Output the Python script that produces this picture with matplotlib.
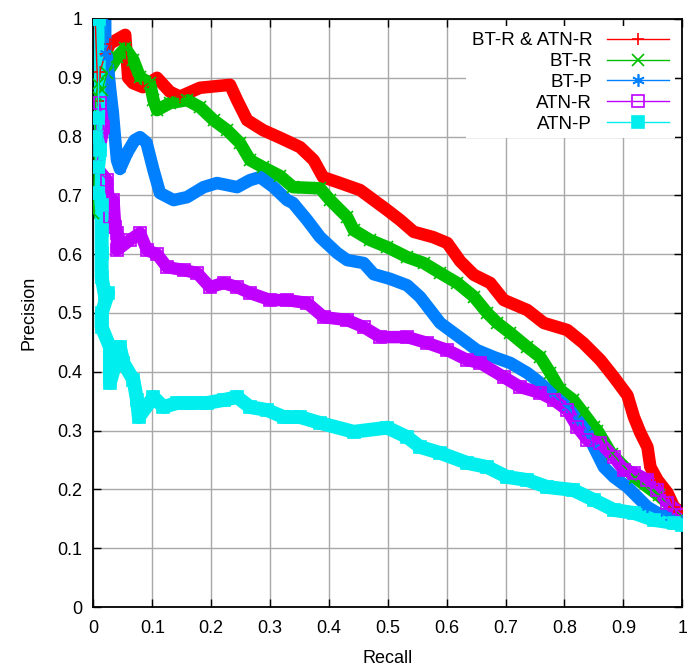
import matplotlib.pyplot as plt
from matplotlib.lines import Line2D

plt.rcParams['font.family'] = ['Liberation Sans', 'DejaVu Sans']

# BT-R & ATN-R
red_x = [0.003, 0.008, 0.011, 0.02, 0.028, 0.040, 0.054, 0.059, 0.067, 0.084, 0.108, 0.130, 0.147,
         0.181, 0.232, 0.244, 0.261, 0.288, 0.317, 0.351, 0.374, 0.390, 0.419, 0.453, 0.476, 0.499,
         0.521, 0.544, 0.577, 0.601, 0.623, 0.646, 0.674, 0.697, 0.737, 0.765, 0.805, 0.832, 0.861,
         0.884, 0.907, 0.918, 0.929, 0.941, 0.946, 0.958, 0.975, 0.986, 1.0]
red_y = [1.0, 0.86, 0.91, 0.94, 0.958, 0.965, 0.973, 0.90, 0.891, 0.884, 0.9, 0.876, 0.868,
         0.883, 0.888, 0.862, 0.828, 0.811, 0.798, 0.782, 0.760, 0.731, 0.721, 0.709, 0.692, 0.675,
         0.658, 0.638, 0.629, 0.619, 0.588, 0.565, 0.551, 0.522, 0.505, 0.483, 0.471, 0.449, 0.420,
         0.391, 0.360, 0.323, 0.296, 0.272, 0.238, 0.216, 0.194, 0.170, 0.160]

# BT-R
green_x = [0.0, 0.004, 0.008, 0.015, 0.023, 0.040, 0.054, 0.068, 0.079, 0.096, 0.102, 0.108, 0.130,
           0.159, 0.181, 0.204, 0.227, 0.249, 0.266, 0.288, 0.317, 0.339, 0.385, 0.402, 0.431, 0.442,
           0.470, 0.499, 0.533, 0.561, 0.589, 0.618, 0.646, 0.669, 0.686, 0.708, 0.737, 0.759, 0.776,
           0.793, 0.815, 0.832, 0.850, 0.856, 0.88, 0.92, 0.96, 1.0]
green_y = [0.67, 0.87, 0.89, 0.88, 0.908, 0.935, 0.95, 0.930, 0.901, 0.891, 0.862, 0.845, 0.857,
           0.862, 0.850, 0.828, 0.811, 0.789, 0.760, 0.748, 0.733, 0.714, 0.712, 0.692, 0.663, 0.641,
           0.624, 0.612, 0.595, 0.585, 0.568, 0.551, 0.528, 0.500, 0.483, 0.466, 0.442, 0.425, 0.398,
           0.369, 0.352, 0.330, 0.306, 0.30, 0.26, 0.22, 0.19, 0.155]

# BT-P
blue_x = [0.0, 0.010, 0.020, 0.020, 0.023, 0.028, 0.033, 0.037, 0.040, 0.045, 0.057, 0.070, 0.079,
          0.090, 0.102, 0.113, 0.136, 0.159, 0.187, 0.210, 0.244, 0.266, 0.283, 0.306, 0.329, 0.339,
          0.363, 0.385, 0.414, 0.431, 0.459, 0.476, 0.504, 0.533, 0.555, 0.572, 0.589, 0.612, 0.635,
          0.651, 0.680, 0.708, 0.737, 0.759, 0.776, 0.805, 0.822, 0.839, 0.850, 0.867, 0.884, 0.907,
          0.924, 0.941, 0.958, 0.980, 1.0]
blue_y = [1.0, 1.0, 1.0, 0.942, 0.935, 0.884, 0.840, 0.794, 0.760, 0.745, 0.772, 0.794, 0.799,
          0.790, 0.743, 0.704, 0.692, 0.697, 0.714, 0.721, 0.714, 0.726, 0.731, 0.714, 0.692, 0.687,
          0.658, 0.629, 0.602, 0.590, 0.585, 0.566, 0.558, 0.547, 0.527, 0.505, 0.483, 0.466, 0.449,
          0.437, 0.425, 0.415, 0.398, 0.381, 0.364, 0.340, 0.318, 0.296, 0.272, 0.238, 0.221, 0.204,
          0.187, 0.170, 0.160, 0.153, 0.148]

# ATN-R
purple_x = [0.005, 0.011, 0.017, 0.005, 0.023, 0.028, 0.034, 0.037, 0.040, 0.040, 0.062, 0.079,
            0.091, 0.108, 0.125, 0.153, 0.176, 0.198, 0.221, 0.244, 0.266, 0.300, 0.329, 0.363,
            0.391, 0.431, 0.459, 0.487, 0.533, 0.567, 0.601, 0.635, 0.657, 0.697, 0.725, 0.759,
            0.782, 0.805, 0.822, 0.839, 0.861, 0.884, 0.901, 0.918, 0.941, 0.958, 0.975, 1.0]
purple_y = [0.80, 0.857, 0.816, 0.748, 0.726, 0.663, 0.692, 0.646, 0.636, 0.607, 0.624, 0.636,
            0.607, 0.600, 0.578, 0.573, 0.568, 0.544, 0.551, 0.544, 0.534, 0.522, 0.522, 0.517,
            0.493, 0.488, 0.476, 0.459, 0.459, 0.449, 0.437, 0.420, 0.415, 0.391, 0.374, 0.364,
            0.352, 0.335, 0.306, 0.284, 0.279, 0.255, 0.233, 0.228, 0.216, 0.199, 0.177, 0.157]

# ATN-P
cyan_x = [0.0, 0.010, 0.008, 0.005, 0.011, 0.008, 0.008, 0.014, 0.014, 0.014, 0.014, 0.020, 0.025,
          0.014, 0.014, 0.028, 0.028, 0.045, 0.051, 0.068, 0.074, 0.077, 0.102, 0.119, 0.142, 0.164,
          0.193, 0.221, 0.244, 0.266, 0.295, 0.323, 0.351, 0.385, 0.442, 0.499, 0.533, 0.555, 0.589,
          0.635, 0.669, 0.703, 0.737, 0.771, 0.815, 0.850, 0.884, 0.918, 0.952, 0.986, 1.0]
cyan_y = [1.0, 1.0, 0.831, 0.799, 0.777, 0.748, 0.704, 0.684, 0.641, 0.602, 0.561, 0.527, 0.534,
          0.500, 0.476, 0.442, 0.381, 0.442, 0.415, 0.386, 0.352, 0.323, 0.357, 0.340, 0.347, 0.347,
          0.347, 0.352, 0.357, 0.340, 0.335, 0.323, 0.323, 0.313, 0.298, 0.305, 0.289, 0.272, 0.262,
          0.245, 0.238, 0.221, 0.216, 0.204, 0.199, 0.182, 0.165, 0.160, 0.148, 0.143, 0.140]

labels = ["BT-R & ATN-R", "BT-R", "BT-P", "ATN-R", "ATN-P"]
colors = ["#ff0000", "#00c000", "#0080ff", "#c000ff", "#00eeee"]
markers = ["+", "x", (6, 2, 0), "s", "s"]

series = [(red_x, red_y), (green_x, green_y), (blue_x, blue_y), (purple_x, purple_y), (cyan_x, cyan_y)]

fig = plt.figure(figsize=(6.87, 6.68), dpi=100)
ax = fig.add_axes([0.136, 0.0913, 0.857, 0.8803])

# thick band mimics the densely packed gnuplot points
widths = [9, 9, 9, 9, 10]
for (xs, ys), c, m, w in zip(series, colors, markers, widths):
    ax.plot(xs, ys, color=c, lw=w, solid_joinstyle="round", solid_capstyle="round", zorder=2)
    ax.plot(xs, ys, color=c, lw=1, marker=m, ms=8, mew=1.2,
            mfc="none" if c == "#c000ff" else c, zorder=3)

ax.set_xlim(0, 1)
ax.set_ylim(0, 1)
ticks = [i / 10 for i in range(11)]
ax.set_xticks(ticks)
ax.set_yticks(ticks)
ax.set_xticklabels(["%g" % t for t in ticks])
ax.set_yticklabels(["%g" % t for t in ticks])
ax.tick_params(direction="in", length=6, width=1, top=True, right=True, labelsize=13)
ax.tick_params(axis="y", pad=8)
ax.tick_params(axis="x", pad=9)
ax.grid(True, color="#a8a8a8", lw=1)
ax.set_axisbelow(True)
for s in ax.spines.values():
    s.set_linewidth(1.3)

ax.set_xlabel("Recall", fontsize=13, labelpad=10)
ax.set_ylabel("Precision", fontsize=13, labelpad=14)

handles = [Line2D([], [], color=c, lw=1, marker=m, ms=9, mew=1.2,
                  mfc="none" if c == "#c000ff" else c)
           for c, m in zip(colors, markers)]
leg = ax.legend(handles, labels, loc="upper right", markerfirst=False, fontsize=13.5,
                frameon=True, fancybox=False, framealpha=1, edgecolor="none",
                handlelength=3.3, labelspacing=0.2, borderaxespad=0.4, borderpad=0.3)
leg.set_zorder(5)

fig.savefig("out.png", dpi=100)
